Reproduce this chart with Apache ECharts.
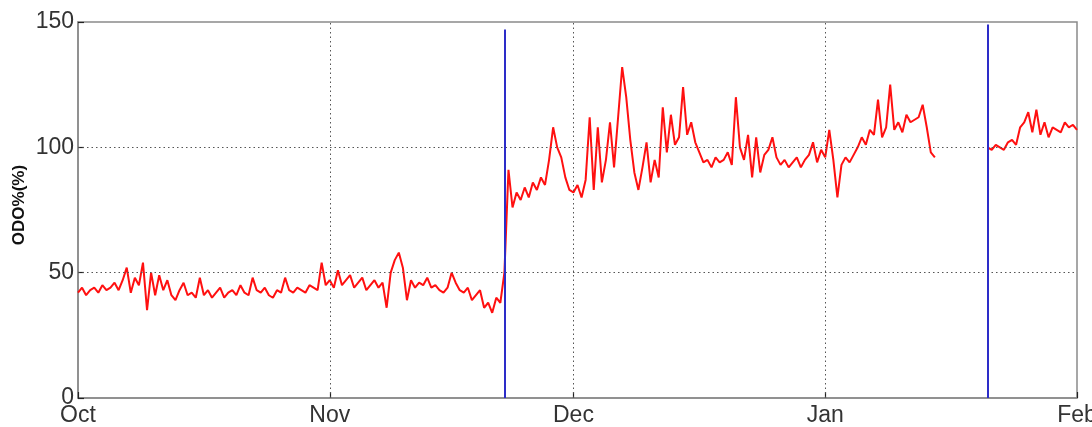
<!DOCTYPE html>
<html>
<head>
<meta charset="utf-8">
<script src="https://cdn.jsdelivr.net/npm/echarts@6/dist/echarts.min.js"></script>
<style>
html,body{margin:0;padding:0;background:#fff;}
#chart{width:1092px;height:427px;}
</style>
</head>
<body>
<div id="chart"></div>
<script>
// ---- data (day offsets from 1 Oct, sampled every half day) ----
const sampleStep = 0.5;
const odoOct = [42,44, 41,43, 44,42, 45,43, 44,46, 43,47, 52,42, 48,45, 54,35, 50,41, 49,43, 47,41, 39,43, 46,41, 42,40, 48,41, 43,40, 42,44, 40,42, 43,41, 45,42, 41,48, 43,42, 44,41, 40,43, 42,48, 43,42, 44,43, 42,45, 44,43, 54,45];
const odoNov = [47,44, 51,45, 47,49, 44,46, 48,43, 45,47, 44,46, 36,50, 55,58, 52,39, 47,44, 46,45, 48,44, 45,43, 42,44, 50,46, 43,42, 44,39, 41,43, 36,38, 34,40, 38,50,
                91,76, 82,79, 84,80, 86,83, 88,85, 95,108, 100,96, 88,83];
const odoDec = [82,85, 80,87, 112,83, 108,86, 95,110, 92,112, 132,120, 103,90, 83,92, 102,86, 95,88, 116,98, 113,101, 104,124, 105,110, 102,98, 94,95, 92,96, 94,95, 98,93, 120,100, 95,105, 88,104, 90,97, 99,104, 96,93, 95,92, 94,96, 92,95, 97,102, 94,99];
const odoJan = [96,107, 95,80, 93,96, 94,97, 100,104, 101,107, 105,119, 104,108, 125,107, 110,106, 113,110, 111,112, 117,108, 98,96,
                null,null, null,null, null,null, null,null, null,null, null,null,
                100,99, 101,100, 99,102, 103,101, 108,110, 114,106, 115,105, 110,104, 108,107, 106,110, 108,109, 107];
const segmentStartDays = [0, 31, 61, 92];
const monthTickDays = [0, 31, 61, 92, 123];
const monthLabels = ['Oct', 'Nov', 'Dec', 'Jan', 'Feb'];
const yTicks = [0, 50, 100, 150];
const eventDays = [52.6, 112];
const eventTops = [147, 149];

// ---- build series data ----
const segments = [odoOct, odoNov, odoDec, odoJan];
const odoData = [];
segments.forEach((seg, si) => {
  seg.forEach((v, i) => odoData.push([segmentStartDays[si] + i * sampleStep, v]));
});

const labelFont = '"Liberation Sans Narrow", "Arial Narrow", "Liberation Sans", Arial, sans-serif';
const gridLineStyle = { color: '#555', type: [1.5, 3], width: 1 };

const gridMarks = [];
monthTickDays.slice(1, -1).forEach(d => gridMarks.push([{ coord: [d, 0] }, { coord: [d, 150] }]));
yTicks.slice(1, -1).forEach(v => gridMarks.push([{ coord: [0, v] }, { coord: [123, v] }]));

const eventMarks = eventDays.map((d, i) => [{ coord: [d, 0] }, { coord: [d, eventTops[i]] }]);

const chart = echarts.init(document.getElementById('chart'), null, { renderer: 'canvas' });
chart.setOption({
  animation: false,
  backgroundColor: '#fff',
  grid: { left: 78, right: 15, top: 22, bottom: 29, outerBoundsMode: 'none', containLabel: false,
          show: true, borderColor: '#8a8a8a', borderWidth: 1.5, backgroundColor: 'transparent' },
  xAxis: {
    type: 'value', min: 0, max: 123,
    axisLine: { show: true, lineStyle: { color: '#8a8a8a', width: 1.5 } },
    axisTick: { show: true, inside: true, length: 6, customValues: monthTickDays, lineStyle: { color: '#222', width: 1.2 } },
    axisLabel: {
      customValues: monthTickDays, margin: 6, fontFamily: labelFont, fontSize: 23, color: '#333',
      formatter: v => monthLabels[monthTickDays.indexOf(v)] || ''
    },
    splitLine: { show: false }
  },
  yAxis: {
    type: 'value', min: 0, max: 150, interval: 50,
    axisLine: { show: true, lineStyle: { color: '#8a8a8a', width: 1.5 } },
    axisTick: { show: true, inside: true, length: 6, lineStyle: { color: '#222', width: 1.2 } },
    axisLabel: { margin: 4, fontFamily: labelFont, fontSize: 23, color: '#333' },
    splitLine: { show: false }
  },
  graphic: [{
    type: 'text', x: 19, y: 205, rotation: Math.PI / 2,
    style: { text: 'ODO%(%)', font: 'bold 17px "Liberation Sans", Arial, sans-serif', fill: '#111', align: 'center', verticalAlign: 'middle' }
  }],
  series: [
    {
      type: 'line', data: [], z: 1, silent: true,
      markLine: { silent: true, symbol: 'none', label: { show: false }, lineStyle: gridLineStyle, data: gridMarks, animation: false }
    },
    {
      type: 'line', data: odoData, z: 3, showSymbol: false, connectNulls: false,
      lineStyle: { color: '#ff1010', width: 2 }, itemStyle: { color: '#ff1010' }
    },
    {
      type: 'line', data: [], z: 4, silent: true,
      markLine: { silent: true, symbol: 'none', label: { show: false }, lineStyle: { color: '#2d2dc8', width: 2, type: 'solid' }, data: eventMarks, animation: false }
    }
  ]
});
</script>
</body>
</html>
